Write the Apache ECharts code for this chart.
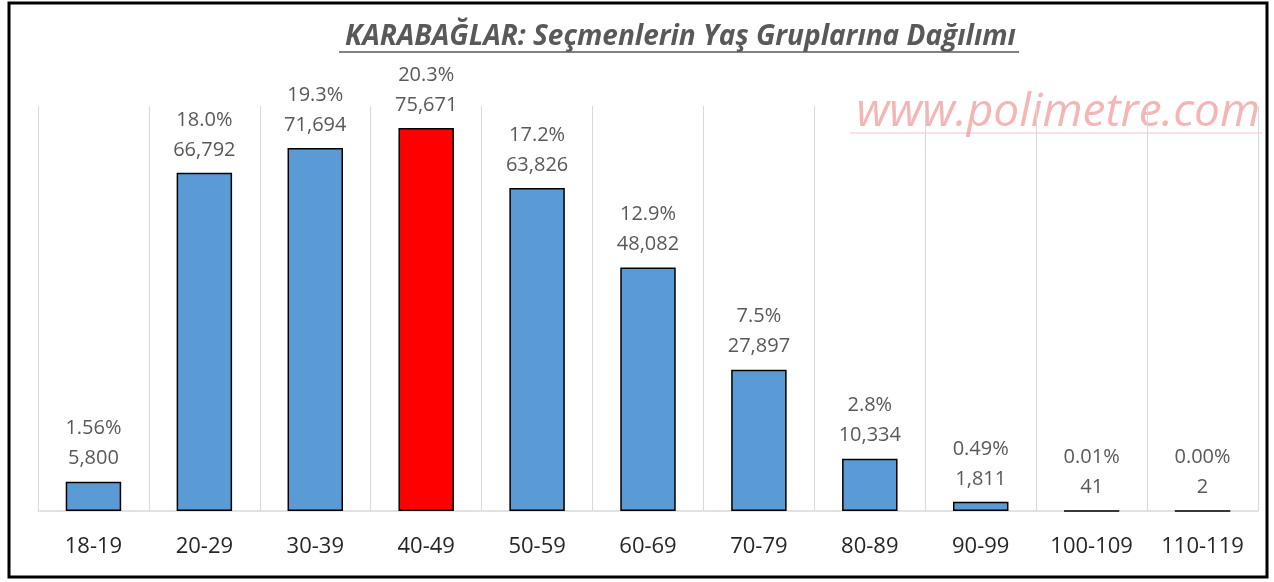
<!DOCTYPE html>
<html>
<head>
<meta charset="utf-8">
<script src="https://cdn.jsdelivr.net/npm/echarts@6/dist/echarts.min.js"></script>
<style>
  html, body { margin: 0; padding: 0; background: #fff; }
  #chart { width: 1274px; height: 582px; }
</style>
</head>
<body>
<div id="chart"></div>
<script>
// yaş grupları
const ageGroups = ['18-19', '20-29', '30-39', '40-49', '50-59', '60-69', '70-79', '80-89', '90-99', '100-109', '110-119']
// seçmen sayıları
const voters = [5800, 66792, 71694, 75671, 63826, 48082, 27897, 10334, 1811, 41, 2]
// yüzde etiketleri
const shares = ['1.56%', '18.0%', '19.3%', '20.3%', '17.2%', '12.9%', '7.5%', '2.8%', '0.49%', '0.01%', '0.00%']
const highlight = '40-49'

const chart = echarts.init(document.getElementById('chart'))

const option = {
  backgroundColor: '#fff',
  animation: false,
  title: {
    text: 'KARABAĞLAR: Seçmenlerin Yaş Gruplarına Dağılımı',
    left: 340,
    top: 18,
    textStyle: {
      fontFamily: 'Open Sans',
      fontStyle: 'italic',
      fontWeight: 'bold',
      fontSize: 28,
      color: '#595959'
    }
  },
  graphic: [
    // dış çerçeve
    {
      type: 'rect',
      shape: { x: 9, y: 3, width: 1258, height: 574 },
      style: { fill: 'none', stroke: '#000', lineWidth: 3 },
      silent: true
    },
    // başlık alt çizgisi
    {
      type: 'line',
      shape: { x1: 339, y1: 52, x2: 1019, y2: 52 },
      style: { stroke: '#595959', lineWidth: 1.5 },
      silent: true
    },
    // filigran
    {
      type: 'text',
      right: 14,
      top: 90,
      z: -1,
      style: {
        text: 'www.polimetre.com',
        font: 'italic 46px "Open Sans"',
        fill: 'rgba(236, 120, 120, 0.55)'
      },
      silent: true
    },
    {
      type: 'line',
      z: -1,
      shape: { x1: 850, y1: 133, x2: 1262, y2: 133 },
      style: { stroke: 'rgba(236, 120, 120, 0.45)', lineWidth: 1 },
      silent: true
    }
  ],
  grid: {
    left: 38,
    right: 16,
    top: 106,
    bottom: 71
  },
  xAxis: {
    type: 'category',
    data: ageGroups,
    axisLine: { lineStyle: { color: '#d9d9d9', width: 1.5 } },
    axisTick: { show: false },
    axisLabel: {
      color: '#262626',
      fontFamily: 'Open Sans',
      fontSize: 22,
      margin: 25
    },
    splitLine: { show: true, interval: 0, lineStyle: { color: '#d9d9d9', width: 1 } }
  },
  yAxis: {
    type: 'value',
    min: 0,
    max: 80000,
    show: false,
    splitLine: { show: false }
  },
  series: [
    {
      type: 'bar',
      barWidth: '50%',
      data: voters.map((v, i) => ({
        value: v,
        itemStyle: { color: ageGroups[i] === highlight ? '#ff0000' : '#5b9bd5' }
      })),
      itemStyle: {
        borderColor: '#000',
        borderWidth: 1.5
      },
      label: {
        show: true,
        position: 'top',
        distance: 8,
        color: '#595959',
        fontFamily: 'Open Sans',
        fontSize: 20,
        lineHeight: 30,
        formatter: p => shares[p.dataIndex] + '\n' + p.value.toLocaleString('en-US')
      }
    }
  ]
}

chart.setOption(option)
</script>
</body>
</html>
